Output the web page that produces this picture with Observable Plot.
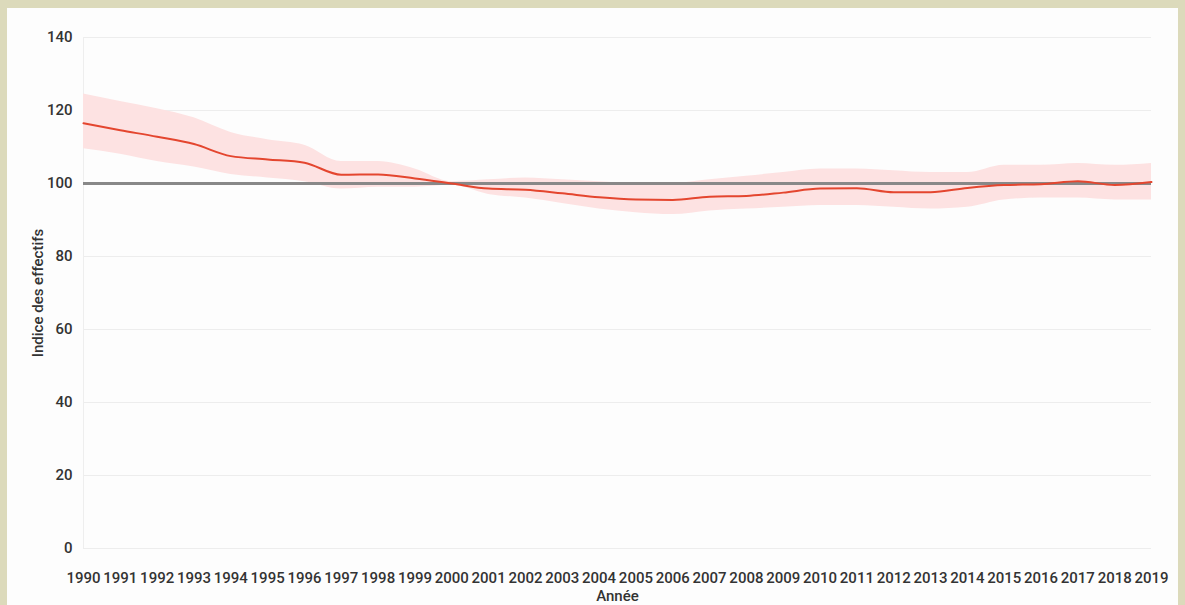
<!DOCTYPE html>
<html><head><meta charset="utf-8">
<script src="https://cdn.jsdelivr.net/npm/d3@7"></script>
<script src="https://cdn.jsdelivr.net/npm/@observablehq/plot@0.6"></script>
<style>
html,body{margin:0;padding:0;background:#dcdabb;width:1185px;height:605px;overflow:hidden;}
#panel{position:absolute;left:7px;top:8px;width:1171px;height:597px;background:#fdfdfd;}
</style></head><body><div id="panel"></div>
<script>
const years = [1990,1991,1992,1993,1994,1995,1996,1997,1998,1999,2000,2001,2002,2003,2004,2005,2006,2007,2008,2009,2010,2011,2012,2013,2014,2015,2016,2017,2018,2019];
const indexValues = [116.5,114.6,112.8,110.8,107.5,106.6,105.7,102.4,102.5,101.4,100,98.6,98.3,97.3,96.2,95.6,95.5,96.4,96.6,97.5,98.6,98.7,97.6,97.6,98.8,99.6,99.8,100.6,99.6,100.4];
const upperValues = [124.5,122.5,120.5,118,114,112,110.5,106,106,104,100.5,101,101.5,101,100.5,100,100,101,102,103,104,104,103.5,103,103,105,105,105.5,105,105.5];
const lowerValues = [109.5,108,106,104.5,102.5,101.5,100.5,98.5,99,99,99.5,97,96,94.5,93,92,91.5,92.5,93,93.5,94,94,93.5,93,93.5,95.5,96,96,95.5,95.5];
const yTicks = [0,20,40,60,80,100,120,140];
const referenceLevel = [100];

const data = years.map((year, i) => ({year, value: indexValues[i], upper: upperValues[i], lower: lowerValues[i]}));

const chart = Plot.plot({
  width: 1171, height: 597,
  marginLeft: 76, marginRight: 27, marginTop: 29, marginBottom: 57,
  style: {fontFamily: "Roboto, sans-serif", fontSize: "15px", fontWeight: 500, color: "#333", background: "transparent"},
  x: {domain: [years[0], years[years.length - 1]], ticks: years, tickFormat: d => String(d), label: "Année", labelAnchor: "center", labelArrow: "none", tickSize: 0, tickPadding: 24, labelOffset: 52},
  y: {domain: [0, 140], ticks: yTicks, label: "Indice des effectifs", labelAnchor: "center", labelArrow: "none", tickSize: 0, tickPadding: 11, labelOffset: 51},
  marks: [
    Plot.ruleY(yTicks, {stroke: "#ededed", strokeWidth: 1}),
    Plot.ruleX([years[0]], {stroke: "#eeeeee"}),
    Plot.areaY(data, {x: "year", y1: "lower", y2: "upper", fill: "#fde2e2", curve: "monotone-x"}),
    Plot.ruleY(referenceLevel, {stroke: "#888888", strokeWidth: 3}),
    Plot.lineY(data, {x: "year", y: "value", stroke: "#e4462f", strokeWidth: 2, curve: "monotone-x"})
  ]
});
document.getElementById("panel").appendChild(chart);
</script>
</body></html>
